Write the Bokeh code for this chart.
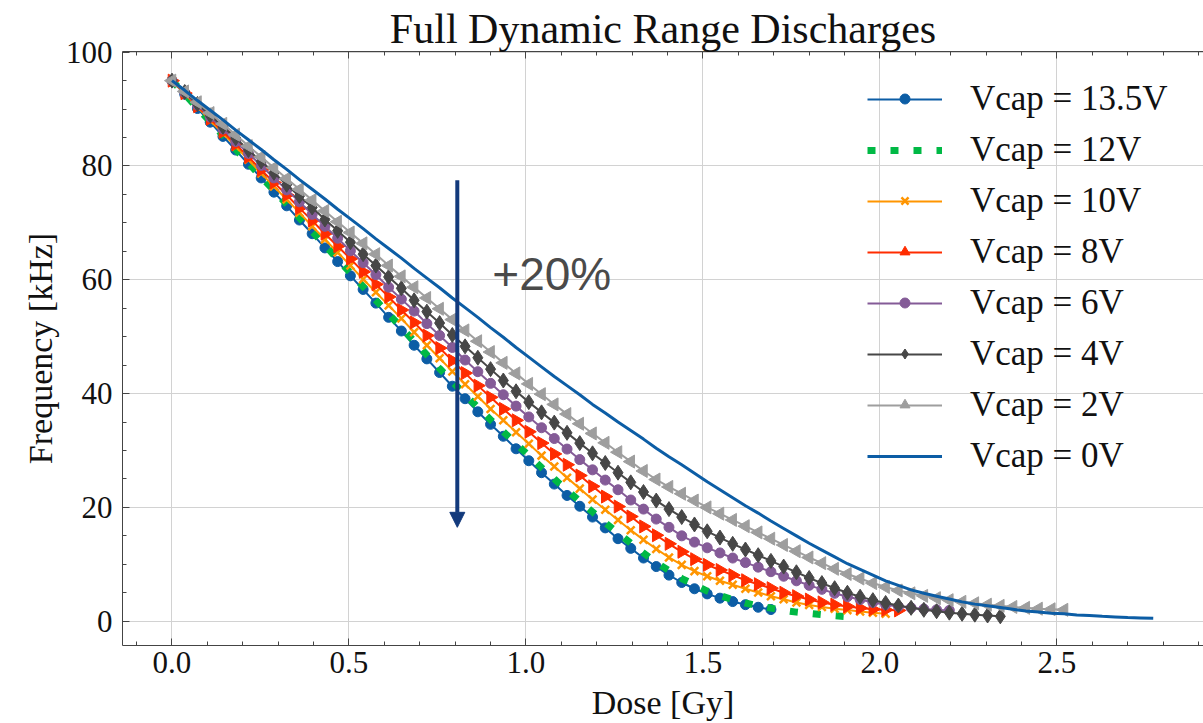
import math
from bokeh.plotting import figure
from bokeh.models import (Range1d, LinearAxis, Legend, LegendItem, Arrow, NormalHead,
                          Label, FixedTicker, NumeralTickFormatter)
from bokeh.embed import file_html
from bokeh.resources import INLINE

# ---------------- data ----------------
DOSE = [0.000, 0.036, 0.072, 0.108, 0.144, 0.180, 0.216, 0.252, 0.288, 0.324,
        0.360, 0.396, 0.432, 0.468, 0.504, 0.540, 0.576, 0.612, 0.648, 0.684,
        0.720, 0.756, 0.792, 0.828, 0.864, 0.900, 0.936, 0.972, 1.008, 1.044,
        1.080, 1.116, 1.152, 1.188, 1.224, 1.260, 1.296, 1.332, 1.368, 1.404,
        1.440, 1.476, 1.512, 1.548, 1.584, 1.620, 1.656, 1.692, 1.728, 1.764,
        1.800, 1.836, 1.872, 1.908, 1.944, 1.980, 2.016, 2.052, 2.088, 2.124,
        2.160, 2.196, 2.232, 2.268, 2.304, 2.340, 2.376, 2.412, 2.448, 2.484,
        2.520, 2.556, 2.592, 2.628, 2.664, 2.700, 2.736, 2.772]

F_13_5V = [95.0, 92.6, 90.1, 87.7, 85.2, 82.8, 80.3, 77.9, 75.4, 73.0,
           70.5, 68.1, 65.6, 63.2, 60.7, 58.3, 55.9, 53.4, 51.0, 48.5,
           46.1, 43.7, 41.3, 39.1, 36.8, 34.6, 32.5, 30.3, 28.2, 26.1,
           24.1, 22.1, 20.2, 18.3, 16.4, 14.5, 12.8, 11.1, 9.6, 8.1,
           6.8, 5.7, 4.8, 4.05, 3.45, 2.9, 2.45, 2.05]

F_12V = [95.0, 92.6, 90.2, 87.8, 85.4, 82.9, 80.5, 78.1, 75.7, 73.3,
         70.9, 68.5, 66.1, 63.6, 61.2, 58.8, 56.4, 54.0, 51.6, 49.2,
         46.8, 44.4, 42.1, 39.8, 37.6, 35.4, 33.3, 31.2, 29.1, 27.0,
         25.0, 23.0, 21.1, 19.2, 17.3, 15.5, 13.7, 12.0, 10.3, 8.9,
         7.5, 6.4, 5.3, 4.5, 3.8, 3.2, 2.7, 2.3, 1.9, 1.6,
         1.35, 1.15, 0.95, 0.8]

F_10V = [95.0, 92.7, 90.4, 88.0, 85.7, 83.4, 81.1, 78.7, 76.4, 74.1,
         71.8, 69.4, 67.1, 64.8, 62.5, 60.1, 57.8, 55.5, 53.2, 50.8,
         48.5, 46.2, 43.9, 41.65, 39.5, 37.3, 35.3, 33.2, 31.2, 29.1,
         27.2, 25.2, 23.3, 21.4, 19.6, 17.8, 16.0, 14.3, 12.7, 11.2,
         9.9, 8.8, 7.9, 7.1, 6.4, 5.7, 5.05, 4.4, 3.85, 3.3,
         2.85, 2.5, 2.2, 1.95, 1.7, 1.5, 1.3]

F_8V = [95.0, 92.8, 90.5, 88.3, 86.0, 83.8, 81.6, 79.3, 77.1, 74.9,
        72.6, 70.4, 68.1, 65.9, 63.7, 61.4, 59.2, 57.0, 54.7, 52.5,
        50.2, 48.0, 45.8, 43.6, 41.4, 39.35, 37.3, 35.3, 33.3, 31.3,
        29.4, 27.5, 25.6, 23.7, 21.9, 20.15, 18.4, 16.65, 15.1, 13.6,
        12.2, 10.9, 9.9, 9.0, 8.1, 7.2, 6.5, 5.8, 5.0, 4.4,
        3.8, 3.3, 2.9, 2.6, 2.3, 2.1, 2.0, 1.9]

F_6V = [95.0, 92.9, 90.7, 88.6, 86.5, 84.3, 82.2, 80.1, 77.9, 75.8,
        73.7, 71.5, 69.4, 67.3, 65.1, 63.0, 60.9, 58.7, 56.6, 54.5,
        52.3, 50.2, 48.1, 45.9, 43.85, 41.8, 39.8, 37.8, 35.9, 34.0,
        32.1, 30.25, 28.4, 26.6, 24.8, 23.1, 21.3, 19.7, 17.95, 16.5,
        15.0, 13.9, 12.9, 12.0, 11.1, 10.3, 9.5, 8.7, 7.9, 7.1,
        6.3, 5.6, 4.9, 4.3, 3.8, 3.3, 2.9, 2.6, 2.35, 2.15,
        2.0, 1.9]

F_4V = [95.0, 93.0, 90.9, 88.9, 86.9, 84.9, 82.8, 80.8, 78.8, 76.7,
        74.7, 72.7, 70.6, 68.6, 66.6, 64.5, 62.5, 60.5, 58.5, 56.4,
        54.4, 52.4, 50.3, 48.3, 46.3, 44.3, 42.3, 40.4, 38.5, 36.7,
        34.9, 33.1, 31.3, 29.5, 27.8, 26.1, 24.4, 22.7, 21.2, 19.7,
        18.3, 17.0, 15.8, 14.7, 13.6, 12.6, 11.6, 10.6, 9.6, 8.6,
        7.6, 6.7, 5.8, 5.0, 4.3, 3.7, 3.2, 2.75, 2.35, 2.0,
        1.75, 1.5, 1.3, 1.15, 1.0, 0.85]

F_2V = [95.0, 93.1, 91.2, 89.3, 87.4, 85.5, 83.5, 81.6, 79.7, 77.8,
        75.9, 74.0, 72.1, 70.2, 68.3, 66.4, 64.5, 62.5, 60.6, 58.7,
        56.8, 54.9, 53.0, 51.1, 49.2, 47.3, 45.4, 43.55, 41.7, 39.9,
        38.1, 36.4, 34.7, 33.0, 31.35, 29.7, 28.05, 26.4, 24.9, 23.6,
        22.4, 21.2, 20.0, 18.9, 17.8, 16.7, 15.6, 14.5, 13.4, 12.3,
        11.2, 10.2, 9.2, 8.3, 7.5, 6.7, 6.0, 5.4, 4.9, 4.45,
        4.05, 3.7, 3.4, 3.15, 2.9, 2.7, 2.5, 2.35, 2.2, 2.1,
        2.0]

F_0V = [95.0, 93.3, 91.5, 89.8, 88.1, 86.3, 84.6, 82.9, 81.1, 79.4,
        77.6, 75.9, 74.2, 72.4, 70.7, 69.0, 67.2, 65.5, 63.8, 62.0,
        60.3, 58.6, 56.8, 55.1, 53.4, 51.6, 49.9, 48.1, 46.4, 44.7,
        43.0, 41.4, 39.8, 38.1, 36.6, 35.0, 33.5, 32.0, 30.4, 28.9,
        27.5, 26.0, 24.5, 23.1, 21.7, 20.3, 19.0, 17.6, 16.3, 15.0,
        13.7, 12.5, 11.3, 10.1, 9.1, 8.1, 7.1, 6.3, 5.5, 4.9,
        4.4, 3.9, 3.4, 3.0, 2.7, 2.4, 2.1, 1.8, 1.6, 1.4,
        1.3, 1.1, 1.0, 0.85, 0.75, 0.65, 0.58, 0.5]

LABELS = ["Vcap = 13.5V", "Vcap = 12V", "Vcap = 10V", "Vcap = 8V",
          "Vcap = 6V", "Vcap = 4V", "Vcap = 2V", "Vcap = 0V"]
VALUES = [F_13_5V, F_12V, F_10V, F_8V, F_6V, F_4V, F_2V, F_0V]

X_MAJOR = [0.0, 0.5, 1.0, 1.5, 2.0, 2.5]
X_MINOR = [-0.1, 0.1, 0.2, 0.3, 0.4, 0.6, 0.7, 0.8, 0.9, 1.1, 1.2, 1.3, 1.4,
           1.6, 1.7, 1.8, 1.9, 2.1, 2.2, 2.3, 2.4, 2.6, 2.7, 2.8, 2.9]
Y_MAJOR = [0, 20, 40, 60, 80, 100]
Y_MINOR = [5, 10, 15, 25, 30, 35, 45, 50, 55, 65, 70, 75, 85, 90, 95]

# ---------------- styles ----------------
STYLES = [
    dict(color="#0C5DA5", marker="circle", size=10, angle=0.0, lw=2),
    dict(color="#00B945", marker=None, lw=7, dash="8 15"),
    dict(color="#FF9500", marker="x", size=11, angle=0.0, lw=2),
    dict(color="#FF2C00", marker="triangle", size=13, angle=-math.pi / 2, lw=2),
    dict(color="#845B97", marker="circle", size=10, angle=0.0, lw=2),
    dict(color="#474747", marker="diamond", size=15, angle=0.0, lw=2),
    dict(color="#9e9e9e", marker="triangle", size=13, angle=math.pi / 2, lw=2),
    dict(color="#0C5DA5", marker=None, lw=3),
]

SERIF = "Liberation Serif"
NAVY = "#133a7c"
SPINE = "#444444"

p = figure(width=1203, height=723,
           x_range=Range1d(-0.1398, 2.914), y_range=Range1d(-4.27, 100.12),
           output_backend="svg", toolbar_location=None,
           min_border_left=122, min_border_right=0,
           min_border_top=51, min_border_bottom=78)
p.outline_line_color = None
p.background_fill_color = "white"
p.border_fill_color = "white"

p.title.text = "Full Dynamic Range Discharges"
p.title.align = "center"
p.title.text_font = SERIF
p.title.text_font_size = "42px"
p.title.text_font_style = "normal"
p.title.text_color = "#111111"
p.title.standoff = 0

# axes
p.xaxis.ticker = FixedTicker(ticks=X_MAJOR, minor_ticks=X_MINOR)
p.yaxis.ticker = FixedTicker(ticks=Y_MAJOR, minor_ticks=Y_MINOR)
p.xaxis.formatter = NumeralTickFormatter(format="0.0")
for ax in (p.xaxis[0], p.yaxis[0]):
    ax.major_tick_in = 7
    ax.major_tick_out = 0
    ax.minor_tick_in = 4
    ax.minor_tick_out = 0
    ax.axis_line_color = SPINE
    ax.major_tick_line_color = SPINE
    ax.minor_tick_line_color = SPINE
    ax.major_label_text_font = SERIF
    ax.major_label_text_font_size = "31px"
    ax.major_label_text_color = "#111111"
    ax.axis_label_text_font = SERIF
    ax.axis_label_text_font_size = "34px"
    ax.axis_label_text_font_style = "normal"
    ax.axis_label_text_color = "#111111"
p.xaxis.axis_label = "Dose [Gy]"
p.yaxis.axis_label = "Frequency [kHz]"
p.xaxis.major_label_standoff = 6
p.xaxis.axis_label_standoff = 8
p.yaxis.major_label_standoff = 10
p.yaxis.axis_label_standoff = 4

top_axis = LinearAxis(ticker=FixedTicker(ticks=X_MAJOR, minor_ticks=X_MINOR),
                      major_label_text_font_size="1px", major_label_text_color=None,
                      major_label_standoff=0,
                      major_tick_in=7, major_tick_out=0, minor_tick_in=4, minor_tick_out=0,
                      axis_line_color=SPINE, major_tick_line_color=SPINE,
                      minor_tick_line_color=SPINE)
p.add_layout(top_axis, "above")

p.xgrid.ticker = FixedTicker(ticks=X_MAJOR)
p.ygrid.ticker = FixedTicker(ticks=Y_MAJOR)
p.xgrid.grid_line_color = "#d2d2d2"
p.ygrid.grid_line_color = "#d2d2d2"

# series
line_items, marker_items = [], []
dummy = p.scatter(x=DOSE[:1], y=F_0V[:1], size=1, fill_alpha=0, line_alpha=0)
for label, vals, st in zip(LABELS, VALUES, STYLES):
    xs = DOSE[:len(vals)]
    if st.get("dash"):
        lr = p.line(xs, vals, line_color=st["color"], line_width=st["lw"],
                    line_dash=st["dash"], line_cap="butt")
    else:
        lr = p.line(xs, vals, line_color=st["color"], line_width=st["lw"])
    line_items.append(LegendItem(label=label, renderers=[lr]))
    if st["marker"]:
        if st["marker"] == "x":
            sr = p.scatter(xs, vals, marker="x", size=st["size"], line_color=st["color"],
                           line_width=2.5)
        else:
            sr = p.scatter(xs, vals, marker=st["marker"], size=st["size"], angle=st["angle"],
                           fill_color=st["color"], line_color=st["color"], line_width=1)
        marker_items.append(LegendItem(label=" ", renderers=[sr]))
    else:
        marker_items.append(LegendItem(label=" ", renderers=[dummy]))

leg_lines = Legend(items=line_items, location=(745, 167.5), orientation="vertical",
                   glyph_width=75, glyph_height=44, label_height=44, spacing=7,
                   label_standoff=28, padding=0, margin=0,
                   border_line_color=None, background_fill_alpha=0,
                   label_text_font=SERIF, label_text_font_size="35px",
                   label_text_color="#111111")
leg_marks = Legend(items=marker_items, location=(769.5, 177), orientation="vertical",
                   glyph_width=25, glyph_height=25, label_height=25, spacing=26,
                   label_standoff=0, label_width=0, padding=0, margin=0,
                   border_line_color=None, background_fill_alpha=0,
                   label_text_font_size="1px", label_text_color=None)
p.add_layout(leg_lines)
p.add_layout(leg_marks)

# annotations
p.add_layout(Arrow(end=NormalHead(size=15, fill_color=NAVY, line_color=NAVY),
                   x_start=0.806, y_start=77.5, x_end=0.806, y_end=16.5,
                   line_color=NAVY, line_width=4))
p.add_layout(Label(x=0.905, y=61.0, text="+20%", text_font="Liberation Sans",
                   text_font_size="46px", text_color="#4a4a4a",
                   text_baseline="alphabetic", text_align="left"))

open("out.html", "w").write(file_html(p, INLINE))
